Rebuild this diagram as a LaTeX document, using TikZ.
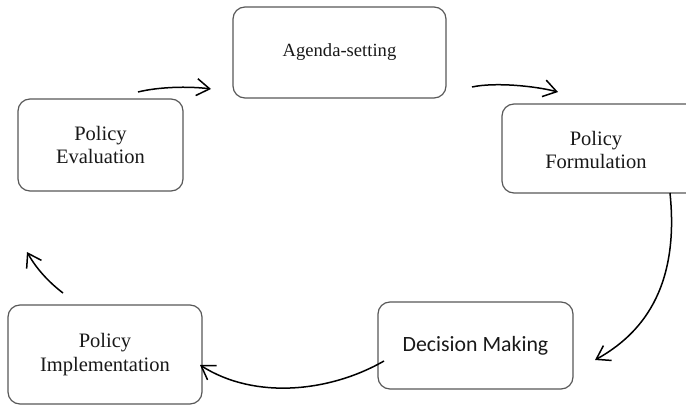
\documentclass[tikz,border=0pt]{standalone}
\usepackage{fontspec}
\setmainfont{Liberation Serif}
\newfontfamily\carlito{Carlito}
\usetikzlibrary{arrows.meta}
\begin{document}
\begin{tikzpicture}[x=1pt,y=-1pt,
  stage/.style={draw=black!65, line width=1.2pt, rounded corners=12pt,
    align=center, text=black!90, inner sep=0pt,
    font=\fontsize{20.5}{23.5}\selectfont},
  caption/.style={align=center, text=black!90, inner sep=0pt,
    font=\fontsize{20.5}{23.5}\selectfont},
  flow/.style={line width=1.5pt, black,
    -{Straight Barb[length=13pt,width=17pt]}}]
\useasboundingbox (0,0) rectangle (686,406);
\clip (0,0) rectangle (686,406);
\fill[white] (0,0) rectangle (686,406);

% the five stages of the policy cycle
\node[stage, minimum width=213pt, minimum height=91pt,
      font=\fontsize{18.6}{22}\selectfont] (agenda) at (339.5,52.5) {Agenda-setting};
% this box runs past the right edge, so its text is set on its own
\node[stage, minimum width=202pt, minimum height=89pt] (formulation) at (603,148.5) {};
\node[caption] (formulationText) at (596,150) {Policy\\Formulation};
\node[stage, minimum width=195pt, minimum height=87pt,
      font=\carlito\fontsize{21.8}{26}\selectfont] (decision) at (475.5,345.5) {Decision Making};
\node[stage, minimum width=194pt, minimum height=99pt] (implementation) at (105,354.5) {Policy\\Implementation};
\node[stage, minimum width=165pt, minimum height=92pt] (evaluation) at (100.5,145) {Policy\\Evaluation};

% free ends of the connecting arrows
\coordinate (evalOut) at (138,92);
\coordinate (agendaIn) at (211,89);
\coordinate (agendaOut) at (472,87);
\coordinate (formIn) at (558,92);
\coordinate (formOut) at (670,193);
\coordinate (decIn) at (595,360);
\coordinate (decOut) at (384,361);
\coordinate (implIn) at (200,365);
\coordinate (implOut) at (63,293);
\coordinate (evalIn) at (27,252);

\draw[flow] (evalOut) .. controls (158,87) and (188,86) .. (agendaIn);
\draw[flow] (agendaOut) .. controls (495,82) and (535,86) .. (formIn);
\draw[flow] (formOut) .. controls (680,290) and (640,335) .. (decIn);
\draw[flow] (decOut) .. controls (330,392) and (255,400) .. (implIn);
\draw[flow] (implOut) .. controls (48,281.6) and (36,268) .. (evalIn);
\end{tikzpicture}
\end{document}
